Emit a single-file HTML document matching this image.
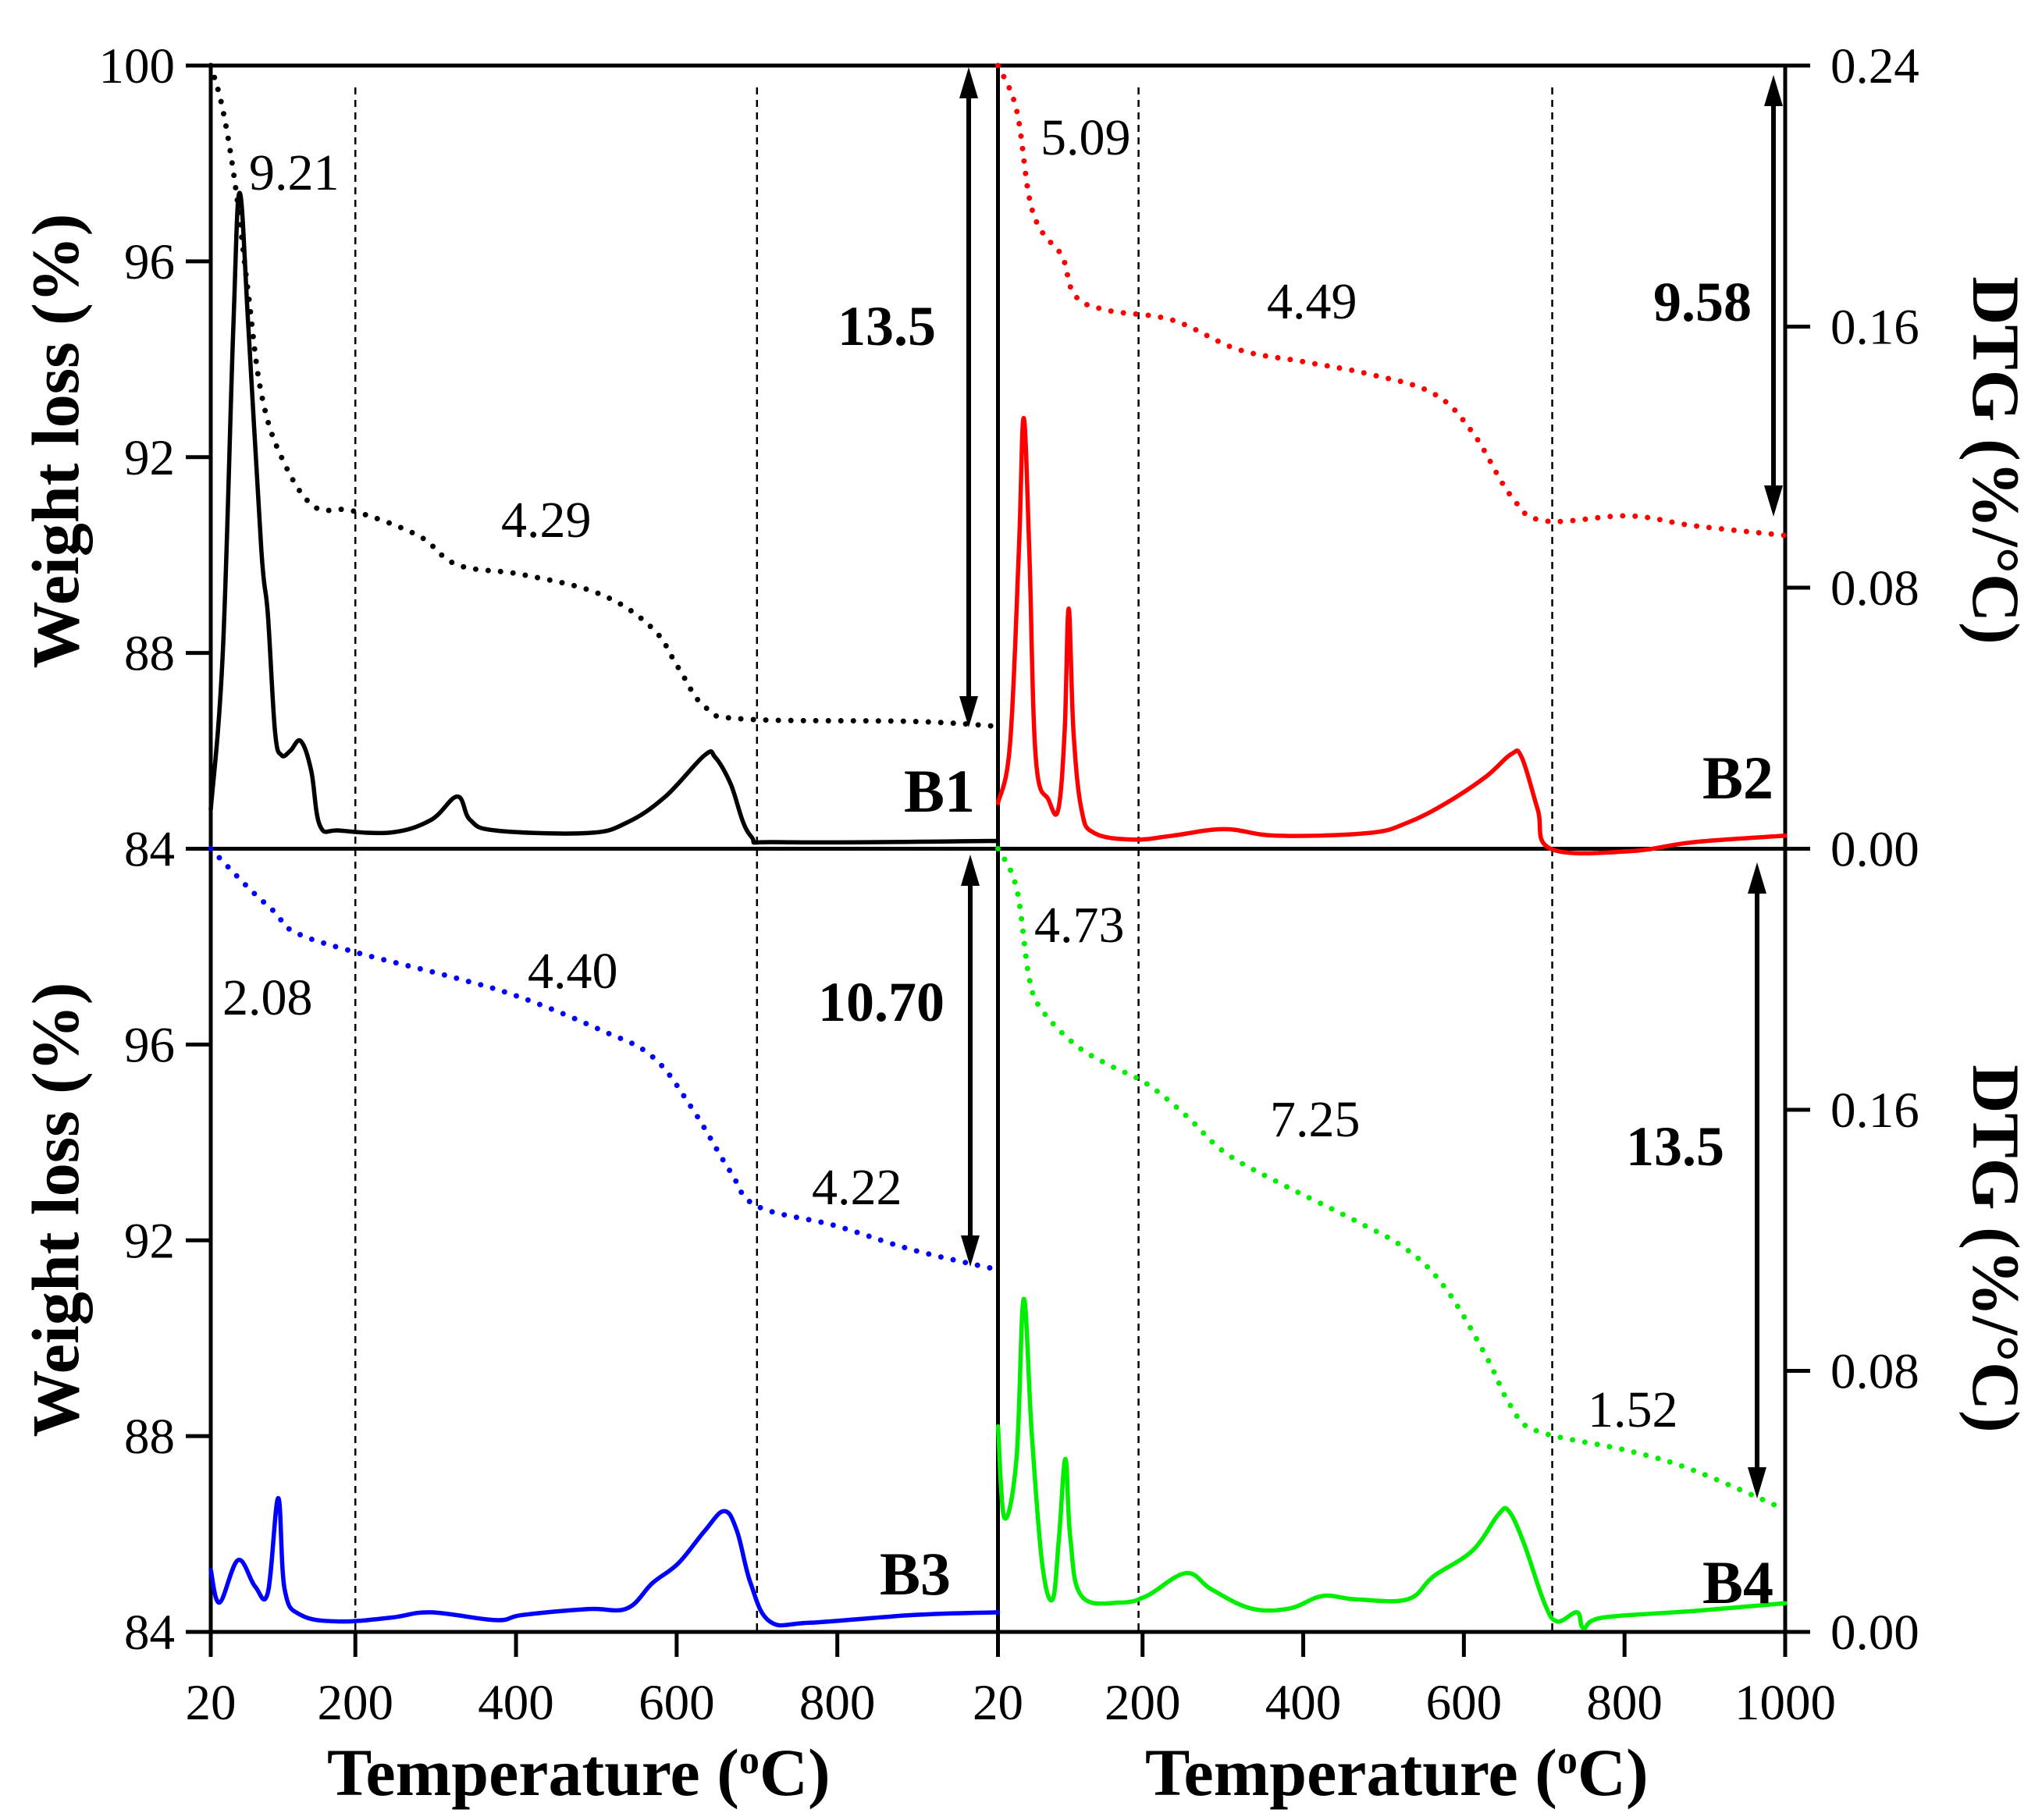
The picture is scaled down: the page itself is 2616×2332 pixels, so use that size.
<!DOCTYPE html>
<html><head><meta charset="utf-8"><style>
html,body{margin:0;padding:0;background:#fff;}
svg{display:block;font-family:"Liberation Serif",serif;}
</style></head><body>
<svg id="chart" width="2616" height="2332" viewBox="0 0 2616 2332" xmlns="http://www.w3.org/2000/svg">
<g id="frame"></g>
<g id="marks"></g>
<g id="labels"></g>
</svg>
<script>
// ---- data ----
const b1TgT = [20,35,51,67,83,108,148,197,278,327,408,505,570,602,635,684,895,1000];
const b1TgW = [100,99.1,97.5,95.3,93.3,92.0,91.0,90.9,90.4,89.8,89.6,89.2,88.5,87.7,86.9,86.65,86.6,86.5];
const b1DtgT = [20,35,48,56,67,83,91,100,108,119,132,145,156,180,245,294,327,343,375,489,538,586,635,648,667,692,733,1000];
const b1DtgV = [0.012,0.06,0.159,0.201,0.159,0.0915,0.072,0.036,0.0287,0.030,0.033,0.024,0.007,0.0056,0.005,0.0088,0.016,0.0088,0.0056,0.0048,0.008,0.016,0.0287,0.028,0.02,0.004,0.002,0.0024];
const b2TgT = [20,43,59,75,100,116,156,237,319,400,481,562,611,659,700,805,886,1000];
const b2TgW = [100,99.1,97.3,96.6,96.1,95.3,95.0,94.8,94.2,93.95,93.7,93.3,92.5,91.2,90.7,90.8,90.6,90.4];
const b2DtgT = [20,35,46,52,59,67,83,95,103,108,114,124,140,189,237,302,367,481,530,578,627,659,672,692,708,805,886,1000];
const b2DtgV = [0.014,0.032,0.0915,0.132,0.0915,0.028,0.015,0.012,0.036,0.0736,0.036,0.012,0.0048,0.0028,0.004,0.006,0.004,0.0048,0.008,0.014,0.022,0.029,0.028,0.012,0,-0.0008,0.002,0.004];
const b3TgT = [20,67,100,124,197,327,408,505,570,619,667,700,797,895,1000];
const b3TgW = [100,99.2,98.7,98.3,97.9,97.35,96.95,96.3,95.75,94.7,93.4,92.7,92.3,91.8,91.4];
const b3DtgT = [20,31,54,75,91,104,112,132,180,245,294,375,408,489,538,570,602,635,659,675,692,716,765,895,1000];
const b3DtgV = [0.019,0.009,0.022,0.014,0.012,0.041,0.013,0.0052,0.0032,0.0044,0.006,0.0036,0.0052,0.007,0.0072,0.015,0.021,0.031,0.037,0.031,0.015,0.0032,0.0028,0.0052,0.006];
const b4TgT = [20,43,59,75,116,156,205,254,302,367,465,530,578,627,659,692,805,886,1000];
const b4TgW = [100,99.2,97.35,96.7,96.0,95.6,95.2,94.55,93.8,93.2,92.4,91.8,91.0,89.65,88.6,88.1,87.7,87.3,86.5];
const b4DtgT = [20,28,43,52,62,75,88,96,104,110,124,172,205,254,286,335,383,424,465,530,562,611,643,656,675,700,716,741,749,773,886,1000];
const b4DtgV = [0.063,0.035,0.053,0.102,0.061,0.021,0.010,0.029,0.053,0.029,0.011,0.009,0.011,0.018,0.013,0.0072,0.0072,0.011,0.010,0.010,0.017,0.025,0.036,0.037,0.027,0.009,0.0032,0.006,0.0012,0.0044,0.0064,0.0088];
const leftTicks = [84,88,92,96,100];
const rightTicks = [0.00,0.08,0.16,0.24];
const xTicks = [20,200,400,600,800,1000];

// ---- geometry ----
const X0=270, XM=1278.5, X1=2287, Y0=84, YM=1087.5, Y1=2091;
const NS="http://www.w3.org/2000/svg";
function xs(panelLeft, T){ const l = panelLeft?X0:XM; return l + (T-20)*(XM-X0)/980; }
function yw(top, W){ const t = top?Y0:YM; return t + (100-W)*(YM-Y0)/16; }
function yd(top, V){ const b = top?YM:Y1; return b - V*(YM-Y0)/0.24; }
function el(tag, attrs, parent){ const e=document.createElementNS(NS,tag); for(const k in attrs) e.setAttribute(k,attrs[k]); parent.appendChild(e); return e; }
const frame=document.getElementById('frame'), marks=document.getElementById('marks'), labels=document.getElementById('labels');

function line(x1,y1,x2,y2,w,dash,parent,name){
  const l=el('line',{x1:x1,y1:y1,x2:x2,y2:y2,stroke:'#000','stroke-width':w},parent);
  if(dash) l.setAttribute('stroke-dasharray',dash);
  
  
  return l;
}
function text(str,x,y,size,opts,parent,name){
  const t=el('text',{x:x,y:y,'font-size':size,fill:'#000'},parent);
  if(opts.bold) t.setAttribute('font-weight','bold');
  if(opts.anchor) t.setAttribute('text-anchor',opts.anchor);
  if(opts.transform) t.setAttribute('transform',opts.transform);
  t.textContent=str;
  
  
  return t;
}

// frame
line(X0-2,Y0,X1+2,Y0,5,null,frame,'top-border');
line(X0-2,YM,X1+2,YM,5,null,frame,'middle-border');
line(X0-2,Y1,X1+2,Y1,5,null,frame,'bottom-border');
line(X0,Y0,X0,Y1,5,null,frame,'left-axis');
line(XM,Y0,XM,Y1,5,null,frame,'center-divider');
line(X1,Y0,X1,Y1,5,null,frame,'right-axis');
[xs(true,200),xs(true,700)].forEach(function(x,i){ line(x,112,x,Y1,2.5,'9 7',frame,'region-divider-left-'+i); });
[xs(false,195),xs(false,710)].forEach(function(x,i){ line(x,112,x,Y1,2.5,'9 7',frame,'region-divider-right-'+i); });

// left ticks
leftTicks.forEach(function(v){
  [true,false].forEach(function(top){
    if(!top && v===100) return;
    const y=yw(top,v);
    line(X0-32,y,X0,y,5,null,frame,'left-tick');
    text(String(v),224,y+22,65,{anchor:'end'},labels,'left-tick-label');
  });
});
// right ticks
rightTicks.forEach(function(v){
  [true,false].forEach(function(top){
    if(!top && v===0.24) return;
    const y=yd(top,v);
    line(X1,y,X1+32,y,5,null,frame,'right-tick');
    text(v.toFixed(2),2345,y+22,65,{},labels,'right-tick-label');
  });
});
// x ticks
xTicks.forEach(function(v){
  [true,false].forEach(function(left){
    if(left && v===1000) return;
    const x=xs(left,v);
    line(x,Y1,x,Y1+32,5,null,frame,'x-tick');
    text(String(v),x,2203,65,{anchor:'middle'},labels,'x-tick-label');
  });
});

// smoothed path (Catmull-Rom)
function smoothPath(P){
  let d='M'+P[0][0].toFixed(1)+','+P[0][1].toFixed(1);
  for(let i=0;i<P.length-1;i++){
    const p0=P[Math.max(0,i-1)], p1=P[i], p2=P[i+1], p3=P[Math.min(P.length-1,i+2)];
    const t=0.18;
    const c1=[p1[0]+(p2[0]-p0[0])*t, p1[1]+(p2[1]-p0[1])*t];
    const c2=[p2[0]-(p3[0]-p1[0])*t, p2[1]-(p3[1]-p1[1])*t];
    d+=' C'+c1[0].toFixed(1)+','+c1[1].toFixed(1)+' '+c2[0].toFixed(1)+','+c2[1].toFixed(1)+' '+p2[0].toFixed(1)+','+p2[1].toFixed(1);
  }
  return d;
}
function series(Ts,Vs,left,top,isTg,color,name){
  const P=Ts.map(function(T,i){ return [xs(left,T), isTg?yw(top,Vs[i]):yd(top,Vs[i])]; });
  const p=el('path',{d:smoothPath(P),fill:'none',stroke:color,'stroke-width':isTg?7:5.5,'stroke-linejoin':'round','stroke-linecap':'round'},marks);
  if(isTg) p.setAttribute('stroke-dasharray','0 16');
  
  
}
series(b1TgT,b1TgW,true,true,true,'#000','b1-tg-curve');
series(b1DtgT,b1DtgV,true,true,false,'#000','b1-dtg-curve');
series(b2TgT,b2TgW,false,true,true,'#ff0000','b2-tg-curve');
series(b2DtgT,b2DtgV,false,true,false,'#ff0000','b2-dtg-curve');
series(b3TgT,b3TgW,true,false,true,'#0000ff','b3-tg-curve');
series(b3DtgT,b3DtgV,true,false,false,'#0000ff','b3-dtg-curve');
series(b4TgT,b4TgW,false,false,true,'#00ee00','b4-tg-curve');
series(b4DtgT,b4DtgV,false,false,false,'#00ee00','b4-dtg-curve');

// double arrows
function arrow(x,y1,y2,name){
  const g=el('g',{},marks);
  
  
  el('line',{x1:x,y1:y1+30,x2:x,y2:y2-30,stroke:'#000','stroke-width':6},g);
  el('polygon',{points:(x-12)+','+(y1+40)+' '+x+','+y1+' '+(x+12)+','+(y1+40),fill:'#000'},g);
  el('polygon',{points:(x-12)+','+(y2-40)+' '+x+','+y2+' '+(x+12)+','+(y2-40),fill:'#000'},g);
}
arrow(1241,86,932,'b1-total-loss-arrow');
arrow(2272,96,662,'b2-total-loss-arrow');
arrow(1243,1095,1623,'b3-total-loss-arrow');
arrow(2251,1105,1920,'b4-total-loss-arrow');

// annotations
text('9.21',319,243,66,{},labels,'b1-step1-loss');
text('4.29',642,688,66,{},labels,'b1-step2-loss');
text('13.5',1073,442,72,{bold:true},labels,'b1-total-loss');
text('B1',1249,1040,78,{bold:true,anchor:'end'},labels,'b1-panel-label');
text('5.09',1333,198,66,{},labels,'b2-step1-loss');
text('4.49',1623,408,66,{},labels,'b2-step2-loss');
text('9.58',2118,411,72,{bold:true},labels,'b2-total-loss');
text('B2',2272,1023,78,{bold:true,anchor:'end'},labels,'b2-panel-label');
text('2.08',285,1300,66,{},labels,'b3-step1-loss');
text('4.40',676,1266,66,{},labels,'b3-step2-loss');
text('10.70',1048,1308,72,{bold:true},labels,'b3-total-loss');
text('4.22',1040,1543,66,{},labels,'b3-step3-loss');
text('B3',1218,2043,78,{bold:true,anchor:'end'},labels,'b3-panel-label');
text('4.73',1325,1207,66,{},labels,'b4-step1-loss');
text('7.25',1627,1456,66,{},labels,'b4-step2-loss');
text('13.5',2083,1493,72,{bold:true},labels,'b4-total-loss');
text('1.52',2034,1828,66,{},labels,'b4-step3-loss');
text('B4',2272,2054,78,{bold:true,anchor:'end'},labels,'b4-panel-label');

// axis titles
text('Weight loss (%)',0,0,86,{bold:true,anchor:'middle',transform:'translate(100,565) rotate(-90)'},labels,'y-axis-title-top');
text('Weight loss (%)',0,0,86,{bold:true,anchor:'middle',transform:'translate(100,1550) rotate(-90)'},labels,'y-axis-title-bottom');
text('DTG (%/°C)',0,0,86,{bold:true,anchor:'middle',transform:'translate(2528,590) rotate(90)'},labels,'dtg-axis-title-top');
text('DTG (%/°C)',0,0,86,{bold:true,anchor:'middle',transform:'translate(2528,1600) rotate(90)'},labels,'dtg-axis-title-bottom');
const tt1=text('Temperature (',419,2300,86,{bold:true},labels,'x-axis-title-left');
const tt2=text('Temperature (',1467,2300,86,{bold:true},labels,'x-axis-title-right');
[tt1,tt2].forEach(function(t){
  const s=document.createElementNS(NS,'tspan'); s.setAttribute('baseline-shift','super'); s.setAttribute('font-size','52'); s.textContent='o'; t.appendChild(s);
  const s2=document.createElementNS(NS,'tspan'); s2.textContent='C)'; t.appendChild(s2);
});
</script>
</body></html>
